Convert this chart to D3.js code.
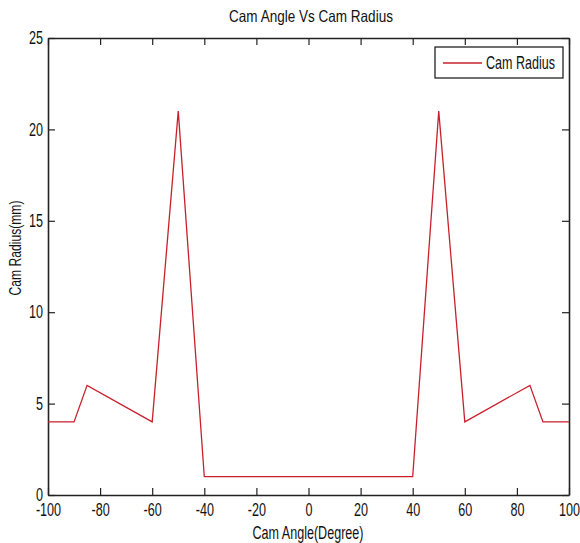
<!DOCTYPE html>
<html>
<head>
<meta charset="utf-8">
<script src="https://cdn.jsdelivr.net/npm/d3@7"></script>
<style>
  html, body { margin: 0; padding: 0; background: #fff; }
  text { font-family: "Liberation Sans", Arial, sans-serif; fill: #111; }
</style>
</head>
<body>
<svg id="chart" width="580" height="543"></svg>
<script>
const angles = [-100, -90, -85, -60, -50, -40, 40, 50, 60, 85, 90, 100];
const radii  = [4, 4, 6, 4, 21, 1, 1, 21, 4, 6, 4, 4];
const xTicks = [-100, -80, -60, -40, -20, 0, 20, 40, 60, 80, 100];
const yTicks = [0, 5, 10, 15, 20, 25];
const titleText = "Cam Angle Vs Cam Radius";
const xLabel = "Cam Angle(Degree)";
const yLabel = "Cam Radius(mm)";
const seriesName = "Cam Radius";

const svg = d3.select("#chart");
const L = 48, R = 569, T = 38, B = 495;
const x = d3.scaleLinear().domain([-100, 100]).range([L, R]);
const y = d3.scaleLinear().domain([0, 25]).range([B, T]);
const axisColor = "#222";
const lineColor = "#c8202c";
const fs = 18;
const sx = 0.70; // narrow glyphs as in the reference
const fmt = d => String(d);

// axes (ticks inward, mirrored)
const tickLen = 7;
const gBottom = svg.append("g").attr("transform", `translate(0,${B})`)
  .call(d3.axisBottom(x).tickValues(xTicks).tickFormat(fmt).tickSizeInner(-tickLen).tickSizeOuter(0));
const gTop = svg.append("g").attr("transform", `translate(0,${T})`)
  .call(d3.axisTop(x).tickValues(xTicks).tickSizeInner(-tickLen).tickSizeOuter(0).tickFormat(""));
const gLeft = svg.append("g").attr("transform", `translate(${L},0)`)
  .call(d3.axisLeft(y).tickValues(yTicks).tickFormat(fmt).tickSizeInner(-tickLen).tickSizeOuter(0));
const gRight = svg.append("g").attr("transform", `translate(${R},0)`)
  .call(d3.axisRight(y).tickValues(yTicks).tickSizeInner(-tickLen).tickSizeOuter(0).tickFormat(""));

[gBottom, gTop, gLeft, gRight].forEach(g => {
  g.selectAll(".domain").attr("stroke", axisColor).attr("stroke-width", 1.6);
  g.selectAll(".tick line").attr("stroke", axisColor).attr("stroke-width", 1.2);
  g.selectAll("text").attr("font-size", fs).attr("font-family", null).attr("fill", "#111");
});
gBottom.selectAll(".tick text").attr("y", 21).attr("dy", 0).attr("transform", `scale(${sx},1)`);
gLeft.selectAll(".tick text").attr("x", -5 / sx).attr("dy", "0.32em").attr("transform", `scale(${sx},1)`);

// data line
const line = d3.line().x((d, i) => x(angles[i])).y(d => y(d));
svg.append("path").datum(radii)
  .attr("d", line)
  .attr("fill", "none")
  .attr("stroke", lineColor)
  .attr("stroke-width", 1.3)
  .attr("stroke-linejoin", "miter");

// helper: narrow text fitted to a target width via horizontal scaling
function narrowText(parent, tx, ty, rot, size, width, anchor, str) {
  const g = parent.append("g").attr("transform", `translate(${tx},${ty}) rotate(${rot})`);
  const t = g.append("text").attr("font-size", size).attr("text-anchor", anchor).text(str);
  const w = t.node().getComputedTextLength();
  t.attr("transform", `scale(${width / w},1)`);
  return t;
}

// title & labels
narrowText(svg, 311, 22, 0, 16.5, 164, "middle", titleText);
narrowText(svg, 308, 539, 0, 17.5, 111, "middle", xLabel);
narrowText(svg, 21, 248, -90, 17, 95, "middle", yLabel);

// legend
const lg = svg.append("g");
lg.append("rect").attr("x", 435).attr("y", 47).attr("width", 128).attr("height", 31)
  .attr("fill", "#fff").attr("stroke", axisColor).attr("stroke-width", 1.3);
lg.append("line").attr("x1", 443).attr("x2", 482).attr("y1", 63).attr("y2", 63)
  .attr("stroke", lineColor).attr("stroke-width", 1.3);
narrowText(lg, 486, 69, 0, 17.5, 69, "start", seriesName);
</script>
</body>
</html>
